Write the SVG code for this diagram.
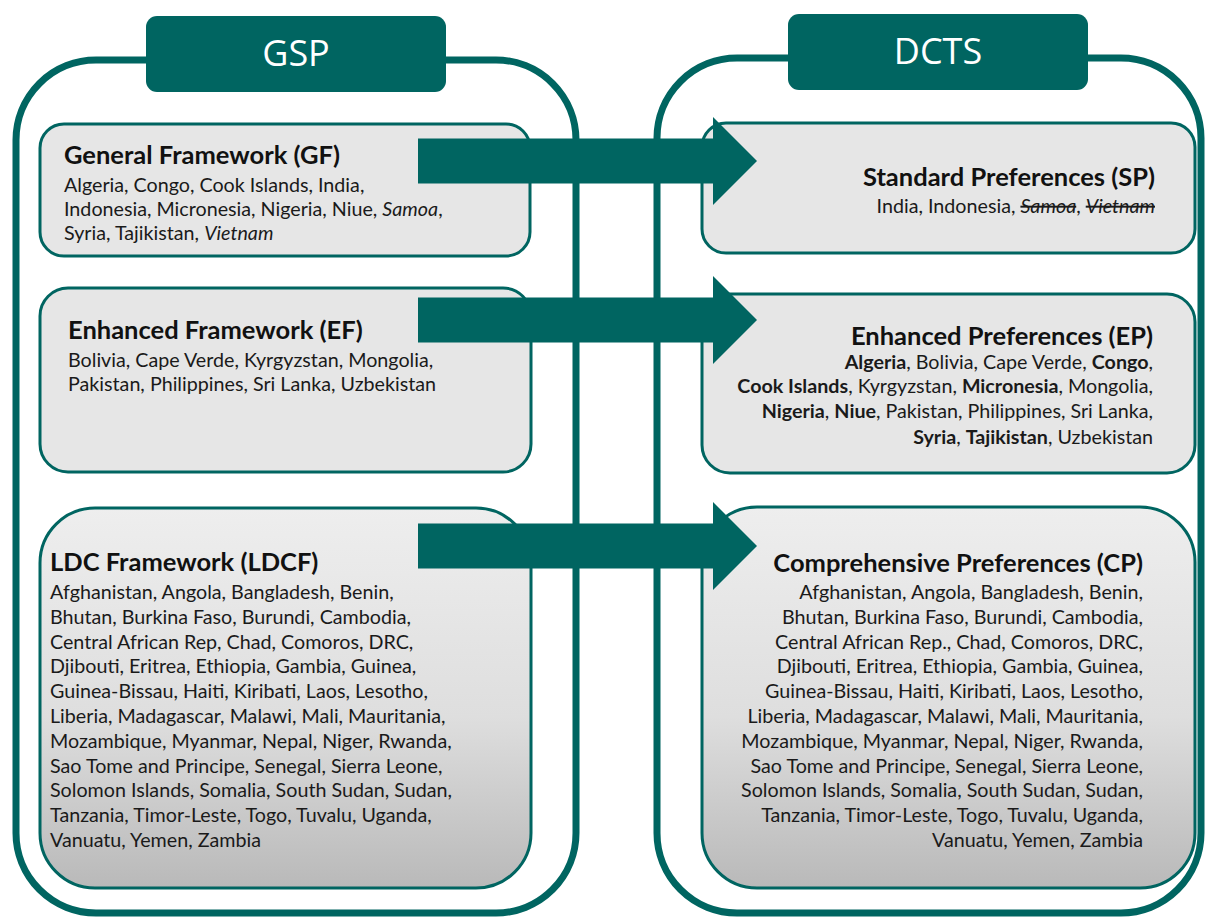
<svg xmlns="http://www.w3.org/2000/svg" width="1208" height="920" viewBox="0 0 1208 920">
<defs>
<style>
.panel{fill:#ffffff;stroke:#006561;stroke-width:7}
.hdr{fill:#006561}
.hdrt{font-family:"Open Sans","Noto Sans",sans-serif;font-size:36px;fill:#ffffff;text-anchor:middle}
.box{fill:#e6e6e6;stroke:#006561;stroke-width:3}
.boxg{fill:url(#grad);stroke:#006561;stroke-width:3}
.ttl{font-family:Lato,"Liberation Sans",sans-serif;font-weight:bold;font-size:25.5px;fill:#111111}
.t{font-family:Lato,"Liberation Sans",sans-serif;font-size:19.7px;fill:#1a1a1a}
.r{text-anchor:end}
.b{font-weight:bold}
.i{font-style:italic}
.s{font-style:italic;text-decoration:line-through}
.arrow{fill:#006561}
</style>
<linearGradient id="grad" x1="0" y1="0" x2="0" y2="1">
<stop offset="0" stop-color="#eeeeee"/>
<stop offset="0.55" stop-color="#dedede"/>
<stop offset="1" stop-color="#b9b9b9"/>
</linearGradient>
</defs>
<rect width="1208" height="920" fill="#ffffff"/>

<g id="gsp-panel">
<rect class="panel" x="16" y="60" width="560" height="853" rx="80"/>
</g>
<g id="dcts-panel">
<rect class="panel" x="657" y="58" width="544" height="855" rx="80"/>
</g>
<g id="gsp-header">
<rect class="hdr" x="146" y="16" width="300" height="76" rx="11"/>
<text class="hdrt" x="296" y="66">GSP</text>
</g>
<g id="dcts-header">
<rect class="hdr" x="788" y="14" width="300" height="76" rx="11"/>
<text class="hdrt" x="938" y="64">DCTS</text>
</g>

<g id="gf">
<rect class="box" x="40" y="124" width="490" height="132" rx="24"/>
<text class="ttl" x="64" y="164">General Framework (GF)</text>
<text class="t" x="64" y="192">Algeria, Congo, Cook Islands, India,</text>
<text class="t" x="64" y="216">Indonesia, Micronesia, Nigeria, Niue, <tspan class="i">Samoa</tspan>,</text>
<text class="t" x="64" y="240">Syria, Tajikistan, <tspan class="i">Vietnam</tspan></text>
</g>

<g id="ef">
<rect class="box" x="40" y="288" width="491" height="184" rx="28"/>
<text class="ttl" x="68" y="339">Enhanced Framework (EF)</text>
<text class="t" x="68" y="367">Bolivia, Cape Verde, Kyrgyzstan, Mongolia,</text>
<text class="t" x="68" y="391">Pakistan, Philippines, Sri Lanka, Uzbekistan</text>
</g>

<g id="ldcf">
<rect class="boxg" x="40" y="508" width="491" height="380" rx="55"/>
<text class="ttl" x="50" y="571">LDC Framework (LDCF)</text>
<text class="t" x="50" y="599">Afghanistan, Angola, Bangladesh, Benin,</text>
<text class="t" x="50" y="623.8">Bhutan, Burkina Faso, Burundi, Cambodia,</text>
<text class="t" x="50" y="648.6">Central African Rep, Chad, Comoros, DRC,</text>
<text class="t" x="50" y="673.4">Djibouti, Eritrea, Ethiopia, Gambia, Guinea,</text>
<text class="t" x="50" y="698.2">Guinea-Bissau, Haiti, Kiribati, Laos, Lesotho,</text>
<text class="t" x="50" y="723">Liberia, Madagascar, Malawi, Mali, Mauritania,</text>
<text class="t" x="50" y="747.8">Mozambique, Myanmar, Nepal, Niger, Rwanda,</text>
<text class="t" x="50" y="772.6">Sao Tome and Principe, Senegal, Sierra Leone,</text>
<text class="t" x="50" y="797.4">Solomon Islands, Somalia, South Sudan, Sudan,</text>
<text class="t" x="50" y="822.2">Tanzania, Timor-Leste, Togo, Tuvalu, Uganda,</text>
<text class="t" x="50" y="847">Vanuatu, Yemen, Zambia</text>
</g>

<g id="sp">
<rect class="box" x="702" y="123" width="493" height="130" rx="24"/>
<text class="ttl r" x="1155" y="186">Standard Preferences (SP)</text>
<text class="t r" x="1155" y="213">India, Indonesia, <tspan class="s">Samoa</tspan>, <tspan class="s">Vietnam</tspan></text>
</g>

<g id="ep">
<rect class="box" x="702" y="294" width="493" height="179" rx="28"/>
<text class="ttl r" x="1153" y="345">Enhanced Preferences (EP)</text>
<text class="t r" x="1153" y="369"><tspan class="b">Algeria</tspan>, Bolivia, Cape Verde, <tspan class="b">Congo</tspan>,</text>
<text class="t r" x="1153" y="393"><tspan class="b">Cook Islands</tspan>, Kyrgyzstan, <tspan class="b">Micronesia</tspan>, Mongolia,</text>
<text class="t r" x="1153" y="418"><tspan class="b">Nigeria</tspan>, <tspan class="b">Niue</tspan>, Pakistan, Philippines, Sri Lanka,</text>
<text class="t r" x="1153" y="444"><tspan class="b">Syria</tspan>, <tspan class="b">Tajikistan</tspan>, Uzbekistan</text>
</g>

<g id="cp">
<rect class="boxg" x="702" y="507" width="493" height="381" rx="55"/>
<text class="ttl r" x="1143" y="572">Comprehensive Preferences (CP)</text>
<text class="t r" x="1143" y="599">Afghanistan, Angola, Bangladesh, Benin,</text>
<text class="t r" x="1143" y="623.8">Bhutan, Burkina Faso, Burundi, Cambodia,</text>
<text class="t r" x="1143" y="648.6">Central African Rep., Chad, Comoros, DRC,</text>
<text class="t r" x="1143" y="673.4">Djibouti, Eritrea, Ethiopia, Gambia, Guinea,</text>
<text class="t r" x="1143" y="698.2">Guinea-Bissau, Haiti, Kiribati, Laos, Lesotho,</text>
<text class="t r" x="1143" y="723">Liberia, Madagascar, Malawi, Mali, Mauritania,</text>
<text class="t r" x="1143" y="747.8">Mozambique, Myanmar, Nepal, Niger, Rwanda,</text>
<text class="t r" x="1143" y="772.6">Sao Tome and Principe, Senegal, Sierra Leone,</text>
<text class="t r" x="1143" y="797.4">Solomon Islands, Somalia, South Sudan, Sudan,</text>
<text class="t r" x="1143" y="822.2">Tanzania, Timor-Leste, Togo, Tuvalu, Uganda,</text>
<text class="t r" x="1143" y="847">Vanuatu, Yemen, Zambia</text>
</g>

<g id="connectors">
<polygon class="arrow" points="418,138.5 713,138.5 713,117 757,161 713,205 713,183.5 418,183.5"/>
<polygon class="arrow" points="418,297.5 713,297.5 713,276 757,320 713,364 713,342.5 418,342.5"/>
<polygon class="arrow" points="418,523.5 713,523.5 713,502 757,546 713,590 713,568.5 418,568.5"/>
</g>
</svg>
